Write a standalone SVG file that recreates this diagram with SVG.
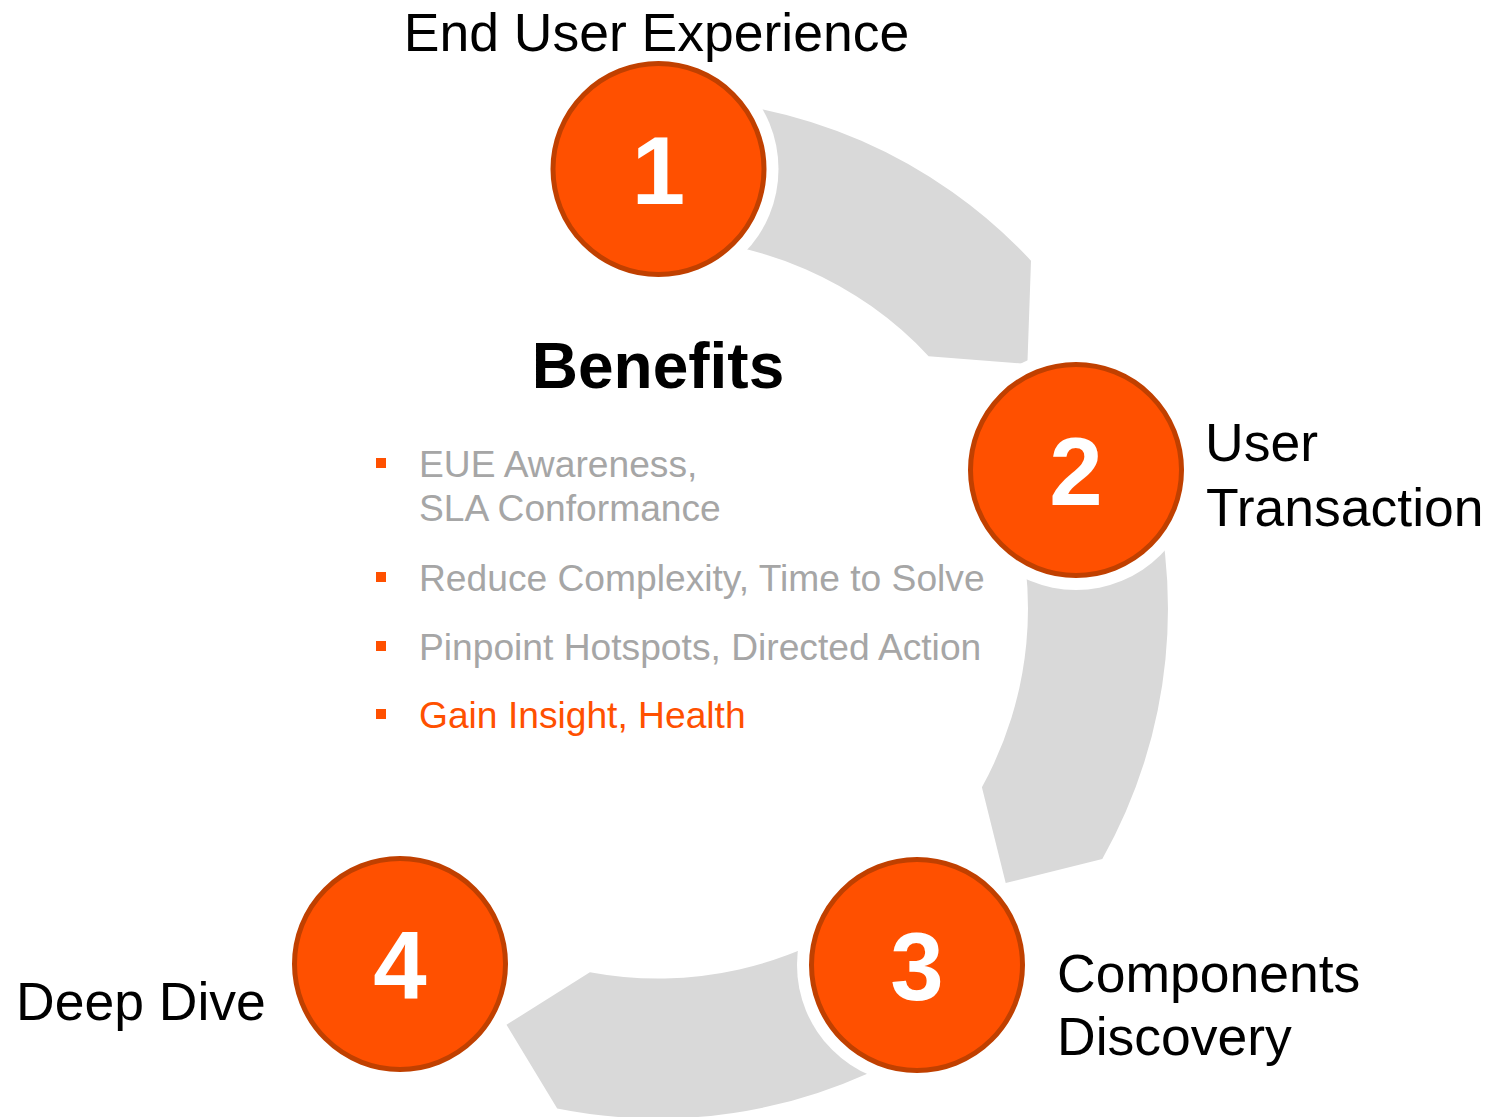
<svg xmlns="http://www.w3.org/2000/svg" width="1491" height="1117" viewBox="0 0 1491 1117">
  <style>
    .band { fill: #D9D9D9; stroke: none; }
    .halo { fill: #FFFFFF; }
    .disc { fill: #FF5000; stroke: #C04000; stroke-width: 5; }
    .num { font-family: "Liberation Sans", Arial, sans-serif; font-weight: bold; font-size: 96px; fill: #FFFFFF; text-anchor: middle; }
    .lbl { font-family: "Liberation Sans", Arial, sans-serif; font-size: 53.5px; fill: #000000; }
    .title { font-family: "Liberation Sans", Arial, sans-serif; font-weight: bold; font-size: 64px; fill: #000000; text-anchor: middle; }
    .bul { font-family: "Liberation Sans", Arial, sans-serif; font-size: 37.2px; fill: #A6A6A6; }
    .bul.hi { fill: #FF5000; }
    .sq { fill: #FF5000; }
  </style>
  <rect width="1491" height="1117" fill="#FFFFFF"/>

  <g id="connectors">
    <path id="c1-2" class="band" d="M 658,98.5 A 510 510 0 0 1 1031,260.7 L 1027.4,364 L 928.6,356.2 A 370 370 0 0 0 658,238.5 Z"/>
    <path id="c2-3" class="band" d="M 1143,450.9 A 510 510 0 0 1 1102.3,858.9 L 1005.7,883.1 L 981.9,787.3 A 370 370 0 0 0 1009.9,494.2 Z"/>
    <path id="c3-4" class="band" d="M 957.8,1021.1 A 510 510 0 0 1 557.2,1108.5 L 506.5,1024.8 L 589.9,972.2 A 370 370 0 0 0 875.5,907.8 Z"/>
  </g>

  <g id="node1">
    <circle class="halo" cx="658.5" cy="169" r="120"/>
    <circle class="disc" cx="658.5" cy="169" r="105.5"/>
    <text class="num" x="658.5" y="204">1</text>
    <text class="lbl" x="656.5" y="51" text-anchor="middle">End User Experience</text>
  </g>

  <g id="node2">
    <circle class="halo" cx="1076" cy="470" r="120"/>
    <circle class="disc" cx="1076" cy="470" r="105.5"/>
    <text class="num" x="1076" y="505">2</text>
    <text class="lbl" x="1205" y="461">User</text>
    <text class="lbl" x="1206" y="526">Transaction</text>
  </g>

  <g id="node3">
    <circle class="halo" cx="917" cy="965" r="120"/>
    <circle class="disc" cx="917" cy="965" r="105.5"/>
    <text class="num" x="917" y="1000">3</text>
    <text class="lbl" x="1057" y="992">Components</text>
    <text class="lbl" x="1057" y="1055">Discovery</text>
  </g>

  <g id="node4">
    <circle class="halo" cx="400" cy="964" r="120"/>
    <circle class="disc" cx="400" cy="964" r="105.5"/>
    <text class="num" x="400" y="999">4</text>
    <text class="lbl" x="16" y="1020">Deep Dive</text>
  </g>

  <g id="benefits">
    <text class="title" x="658" y="388">Benefits</text>
    <rect class="sq" x="376" y="458" width="10" height="10"/>
    <text class="bul" x="419" y="477">EUE Awareness,</text>
    <text class="bul" x="419" y="521">SLA Conformance</text>
    <rect class="sq" x="376" y="572" width="10" height="10"/>
    <text class="bul" x="419" y="591">Reduce Complexity, Time to Solve</text>
    <rect class="sq" x="376" y="641" width="10" height="10"/>
    <text class="bul" x="419" y="660">Pinpoint Hotspots, Directed Action</text>
    <rect class="sq" x="376" y="709" width="10" height="10"/>
    <text class="bul hi" x="419" y="728">Gain Insight, Health</text>
  </g>
</svg>
